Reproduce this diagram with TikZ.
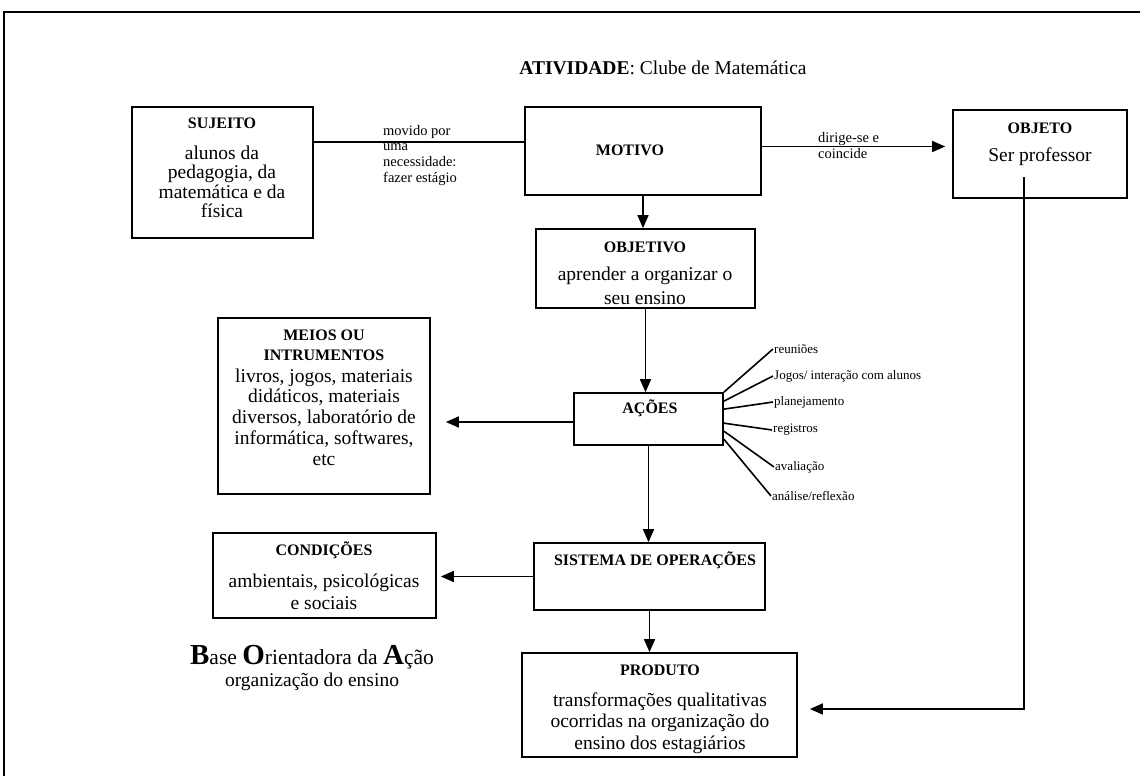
\documentclass[tikz,border=0pt]{standalone}
\usepackage{fontspec}
\setmainfont{Liberation Serif}
\usetikzlibrary{arrows.meta}
\newcommand\hdfont{\fontsize{16}{18}\selectfont\bfseries}
\newcommand\bdfont{\fontsize{19.5}{21.5}\selectfont}
\newcommand\lbfont{\fontsize{14.5}{15.7}\selectfont}
\newcommand\acfont{\fontsize{13}{15}\selectfont}
\newcommand\bigini[1]{{\fontsize{29}{30}\selectfont\bfseries #1}}

\begin{document}
\begin{tikzpicture}[x=1pt,y=-1pt,
  box/.style={draw, line width=1.7pt, inner sep=0pt},
  head/.style={font=\hdfont, inner sep=0pt},
  body/.style={font=\bdfont, align=center, inner sep=0pt},
  lbl/.style={font=\lbfont, align=left, inner sep=0pt, anchor=north west},
  act/.style={font=\acfont, inner sep=1pt, anchor=west},
  conn/.style={line width=1.6pt},
  arr/.style={conn, -{Triangle[length=13pt,width=11pt]}},
]
\useasboundingbox (0,0) rectangle (1140,776);
\fill[white] (0,0) rectangle (1140,776);
% page frame
\draw[conn] (4,776) -- (4,12) -- (1140,12);

% title
\node[inner sep=0pt] (title) at (663,68)
  {\fontsize{19.5}{22}\selectfont\textbf{ATIVIDADE}: Clube de Matemática};

% boxes
\node[box, minimum width=181pt, minimum height=131pt] (suj) at (222.5,172.5) {};
\node[head] (sujh) at (222,123) {SUJEITO};
\node[body, font=\fontsize{19.5}{19.5}\selectfont] (sujb) at (222,182)
  {alunos da\\pedagogia, da\\matemática e da\\física};

\node[box, minimum width=236pt, minimum height=88pt] (mot) at (643,151) {};
\node[head] (moth) at (630,150) {MOTIVO};

\node[box, minimum width=174pt, minimum height=88pt] (obj) at (1040,154) {};
\node[head] (objh) at (1040,128) {OBJETO};
\node[body] (objb) at (1040,157) {Ser professor};

\node[box, minimum width=219pt, minimum height=79pt] (objv) at (645.5,268.5) {};
\node[head] (objvh) at (645,247) {OBJETIVO};
\node[body, font=\fontsize{19.5}{24}\selectfont] (objvb) at (645,286)
  {aprender a organizar o\\seu ensino};

\node[box, minimum width=212pt, minimum height=176pt] (mei) at (324,406) {};
\node[head, align=center, font=\fontsize{16}{20}\selectfont\bfseries] (meih) at (324,345)
  {MEIOS OU\\INTRUMENTOS};
\node[body, font=\fontsize{19.5}{20.8}\selectfont] (meib) at (324,417)
  {livros, jogos, materiais\\didáticos, materiais\\diversos, laboratório de\\informática, softwares,\\etc};

\node[box, minimum width=149pt, minimum height=52pt] (aco) at (648.5,419) {};
\node[head] (acoh) at (650,408) {AÇÕES};

\node[box, minimum width=231pt, minimum height=67pt] (sis) at (649.5,576.5) {};
\node[head] (sish) at (655,560) {SISTEMA DE OPERAÇÕES};

\node[box, minimum width=223pt, minimum height=85pt] (cond) at (324.5,575.5) {};
\node[head] (condh) at (324,550) {CONDIÇÕES};
\node[body, font=\fontsize{19.5}{22}\selectfont] (condb) at (324,592)
  {ambientais, psicológicas\\e sociais};

\node[box, minimum width=275pt, minimum height=104pt] (prod) at (659.5,705) {};
\node[head] (prodh) at (660,670) {PRODUTO};
\node[body] (prodb) at (660,723)
  {transformações qualitativas\\ocorridas na organização do\\ensino dos estagiários};

% base orientadora
\node[inner sep=0pt, anchor=base, font=\fontsize{21.5}{24}\selectfont] (boa) at (312,664)
  {\bigini{B}ase \bigini{O}rientadora da \bigini{A}ção};
\node[inner sep=0pt, anchor=base, font=\fontsize{19.5}{22}\selectfont] (boab) at (312,686)
  {organização do ensino};

% connectors
\coordinate (sm) at ([yshift=30.5pt]suj.east);
\draw[conn] (sm) -- (sm -| mot.west);
\node[lbl] (mvl) at (383,125) {movido por\\uma\\necessidade:\\fazer estágio};

\coordinate (mo) at ([yshift=4.5pt]mot.east);
\draw[arr, shorten >=7pt] (mo) -- (mo -| obj.west);
\node[lbl, font=\fontsize{14.5}{16}\selectfont] (dcl) at (818,132) {dirige-se e\\coincide};

\draw[arr] (mot.south) -- (mot.south |- objv.north);
\draw[arr] (objv.south) -- (objv.south |- aco.north);
\draw[arr] (aco.south) -- (aco.south |- sis.north);
\draw[arr] (sis.south) -- (sis.south |- prod.north);

\coordinate (am) at ([yshift=-3pt]aco.west);
\draw[arr, shorten >=15pt] (am) -- (am -| mei.east);
\draw[arr, shorten >=4pt] (sis.west) -- (sis.west -| cond.east);

\coordinate (os) at (1024,177);
\coordinate (pe) at ([yshift=-4pt]prod.east);
\draw[arr, shorten >=12pt] (os) |- (pe);

% actions
\node[act] (a1) at (773,349) {reuniões};
\node[act] (a2) at (773,376) {Jogos/ interação com alunos};
\node[act] (a3) at (773,402) {planejamento};
\node[act] (a4) at (772,430) {registros};
\node[act] (a5) at (774,467) {avaliação};
\node[act] (a6) at (771,496) {análise/reflexão};
\draw[conn] (aco.north east) -- (a1.west);
\draw[conn] ([yshift=-9pt]aco.north east) -- (a2.west);
\draw[conn] ([yshift=-17pt]aco.north east) -- (a3.west);
\draw[conn] ([yshift=-31pt]aco.north east) -- (a4.west);
\draw[conn] ([yshift=-39pt]aco.north east) -- (a5.west);
\draw[conn] ([yshift=-47pt]aco.north east) -- (a6.west);
\end{tikzpicture}
\end{document}
